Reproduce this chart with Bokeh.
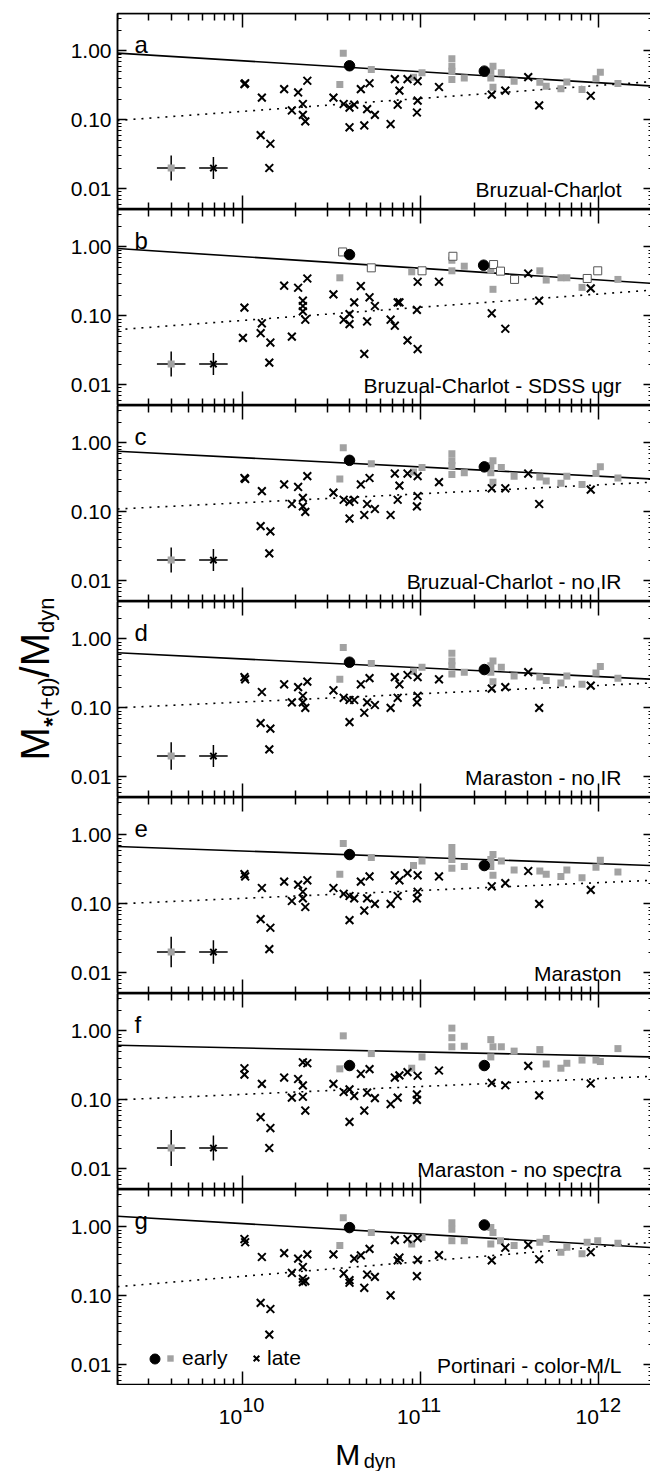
import math
from bokeh.plotting import figure
from bokeh.layouts import column, row
from bokeh.models import (LogAxis, FixedTicker, CustomJSTickFormatter, Range1d,
                          Legend, LegendItem)
from bokeh.embed import file_html
from bokeh.resources import INLINE
from bokeh.core.properties import value

FONT = "Liberation Sans"

# ---------------- axis ticks ----------------
X_MAJOR = [1e10, 1e11, 1e12]
X_MINOR = [k * 10.0 ** e for e in (9, 10, 11) for k in range(2, 10)]
Y_MAJOR = [0.01, 0.1, 1.0]
Y_MINOR = [k * 10.0 ** e for e in (-3, -2, -1, 0) for k in range(2, 10)]
X_EXPONENTS = ["10", "11", "12"]

# ---------------- data (masses in units of 1e10 Msun) ----------------
FIT_M = [0.2, 200.0]          # ends of the fitted lines
ERR_M = [0.40, 0.69]          # typical error crosses
ERR_R = [0.02, 0.02]
ERR_DX = 0.08                 # dex

# panel a : Bruzual-Charlot
a_late_m = [1.03, 1.04, 1.29, 1.27, 1.44, 1.42, 1.72, 1.90, 2.06, 2.19, 2.19, 2.26, 2.32, 3.25, 3.71, 4.00, 4.00, 4.25, 4.63,
            4.84, 5.02, 5.18, 5.55, 6.80, 7.18, 7.45, 7.62, 8.46, 9.55, 9.64, 9.64, 12.7, 25.1, 29.9, 40.2, 46.3, 90.1]
a_late_r = [0.33, 0.34, 0.21, 0.060, 0.045, 0.020, 0.28, 0.137, 0.25, 0.17, 0.118, 0.095, 0.37, 0.21, 0.17, 0.078, 0.151, 0.166, 0.28,
            0.083, 0.143, 0.34, 0.118, 0.087, 0.39, 0.166, 0.266, 0.39, 0.128, 0.364, 0.190, 0.30, 0.232, 0.266, 0.417, 0.162, 0.224]
a_early_m = [3.69, 3.53, 5.30, 9.14, 10.2, 15.0, 15.0, 15.0, 15.0, 17.6, 24.8, 25.5, 24.8, 25.5, 28.4, 33.5, 46.7, 50.7, 61.3,
             66.2, 80.5, 96.4, 102, 128]
a_early_r = [0.925, 0.325, 0.539, 0.417, 0.482, 0.77, 0.60, 0.51, 0.385, 0.407, 0.51, 0.60, 0.407, 0.297, 0.482, 0.364, 0.352,
             0.307, 0.284, 0.356, 0.275, 0.394, 0.493, 0.336]
a_circ_m = [4.0, 22.8]
a_circ_r = [0.61, 0.51]
a_solid = [0.93, 0.31]
a_dotted = [0.098, 0.36]
a_err_dy = [0.18, 0.16]

# panel b : Bruzual-Charlot - SDSS ugr
b_late_m = [1.03, 1.01, 1.29, 1.27, 1.44, 1.42, 1.72, 1.90, 2.06, 2.19, 2.19, 2.19, 2.26, 2.32, 3.25, 3.71, 4.00, 4.00, 4.25, 4.63,
            4.84, 5.02, 5.18, 5.55, 6.80, 7.18, 7.45, 7.62, 8.46, 9.64, 9.55, 9.64, 12.7, 25.1, 29.9, 40.2, 46.3, 90.1]
b_late_r = [0.132, 0.048, 0.078, 0.056, 0.041, 0.021, 0.274, 0.050, 0.256, 0.166, 0.139, 0.116, 0.088, 0.349, 0.205, 0.088, 0.076,
            0.106, 0.157, 0.271, 0.028, 0.083, 0.186, 0.139, 0.088, 0.072, 0.157, 0.157, 0.044, 0.033, 0.122, 0.313, 0.313, 0.109,
            0.065, 0.412, 0.166, 0.251]
b_early_m = [3.53, 8.93, 15.0, 15.0, 17.6, 24.8, 25.5, 46.7, 50.7, 61.3, 66.2, 80.5, 128]
b_early_r = [0.357, 0.436, 0.642, 0.451, 0.526, 0.461, 0.243, 0.451, 0.331, 0.357, 0.357, 0.259, 0.338]
b_open_m = [3.66, 5.30, 10.2, 15.2, 25.7, 28.1, 33.7, 98.6, 86.1]
b_open_r = [0.847, 0.498, 0.451, 0.733, 0.556, 0.446, 0.338, 0.451, 0.349]
b_circ_m = [4.0, 22.6]
b_circ_r = [0.775, 0.544]
b_solid = [0.95, 0.296]
b_dotted = [0.063, 0.237]
b_err_dy = [0.18, 0.16]

# panel c : Bruzual-Charlot - no IR
c_late_m = list(a_late_m)
c_late_r = [0.31, 0.30, 0.20, 0.062, 0.052, 0.025, 0.25, 0.13, 0.23, 0.16, 0.12, 0.10, 0.33, 0.19, 0.15, 0.08, 0.14, 0.15, 0.25,
            0.09, 0.13, 0.31, 0.11, 0.09, 0.36, 0.15, 0.24, 0.36, 0.12, 0.33, 0.17, 0.27, 0.22, 0.22, 0.36, 0.13, 0.21]
c_early_m = list(a_early_m)
c_early_r = [0.85, 0.30, 0.50, 0.38, 0.44, 0.70, 0.55, 0.47, 0.35, 0.37, 0.47, 0.55, 0.37, 0.27, 0.44, 0.33, 0.32, 0.28, 0.26,
             0.33, 0.25, 0.36, 0.45, 0.31]
c_circ_m = [4.0, 22.8]
c_circ_r = [0.56, 0.45]
c_solid = [0.76, 0.30]
c_dotted = [0.11, 0.27]
c_err_dy = [0.18, 0.16]

# panel d : Maraston - no IR
d_late_m = list(a_late_m)
d_late_r = [0.28, 0.26, 0.17, 0.06, 0.05, 0.025, 0.22, 0.12, 0.20, 0.15, 0.12, 0.10, 0.24, 0.18, 0.14, 0.062, 0.13, 0.13, 0.22,
            0.085, 0.12, 0.27, 0.11, 0.10, 0.28, 0.14, 0.22, 0.30, 0.12, 0.28, 0.15, 0.26, 0.19, 0.20, 0.33, 0.10, 0.21]
d_early_m = list(a_early_m)
d_early_r = [0.75, 0.26, 0.44, 0.34, 0.39, 0.62, 0.48, 0.41, 0.31, 0.33, 0.41, 0.48, 0.33, 0.24, 0.39, 0.29, 0.28, 0.25, 0.23,
             0.29, 0.22, 0.32, 0.40, 0.27]
d_circ_m = [4.0, 22.8]
d_circ_r = [0.46, 0.36]
d_solid = [0.63, 0.26]
d_dotted = [0.10, 0.23]
d_err_dy = [0.20, 0.16]

# panel e : Maraston
e_late_m = list(a_late_m)
e_late_r = [0.27, 0.25, 0.17, 0.06, 0.045, 0.022, 0.21, 0.11, 0.19, 0.15, 0.12, 0.09, 0.22, 0.17, 0.14, 0.058, 0.13, 0.12, 0.21,
            0.08, 0.12, 0.25, 0.10, 0.10, 0.26, 0.13, 0.22, 0.28, 0.12, 0.26, 0.15, 0.25, 0.18, 0.20, 0.30, 0.10, 0.16]
e_early_m = list(a_early_m)
e_early_r = [0.75, 0.27, 0.47, 0.36, 0.42, 0.66, 0.52, 0.44, 0.33, 0.35, 0.44, 0.52, 0.35, 0.26, 0.42, 0.31, 0.30, 0.27, 0.25,
             0.31, 0.24, 0.34, 0.43, 0.29]
e_circ_m = [4.0, 22.8]
e_circ_r = [0.52, 0.36]
e_solid = [0.68, 0.36]
e_dotted = [0.10, 0.22]
e_err_dy = [0.22, 0.17]

# panel f : Maraston - no spectra
f_late_m = [1.03, 1.03, 1.29, 1.27, 1.44, 1.42, 1.72, 1.90, 2.06, 2.19, 2.19, 2.26, 2.19, 2.32, 3.25, 3.71, 4.00, 4.00, 4.25,
            4.63, 4.84, 5.02, 5.18, 5.55, 6.80, 7.18, 7.45, 7.62, 8.46, 9.64, 9.55, 9.55, 12.7, 25.1, 29.9, 40.2, 46.3, 90.1]
f_late_r = [0.288, 0.232, 0.171, 0.056, 0.039, 0.020, 0.211, 0.108, 0.201, 0.162, 0.111, 0.070, 0.351, 0.34, 0.171, 0.130, 0.142,
            0.048, 0.114, 0.239, 0.070, 0.127, 0.279, 0.106, 0.087, 0.211, 0.108, 0.227, 0.253, 0.224, 0.120, 0.100, 0.267, 0.176,
            0.163, 0.311, 0.116, 0.173]
f_early_m = [3.69, 3.53, 5.30, 8.93, 10.2, 15.0, 15.0, 15.0, 17.6, 24.8, 25.5, 24.8, 28.4, 33.5, 46.7, 50.7, 61.3, 66.2, 80.5,
             96.4, 102, 128]
f_early_r = [0.85, 0.282, 0.47, 0.288, 0.42, 1.1, 0.8, 0.59, 0.6, 0.42, 0.59, 0.75, 0.59, 0.51, 0.537, 0.332, 0.288, 0.34,
             0.378, 0.378, 0.36, 0.555]
f_circ_m = [4.0, 22.8]
f_circ_r = [0.315, 0.315]
f_solid = [0.62, 0.42]
f_dotted = [0.10, 0.22]
f_err_dy = [0.26, 0.18]

# panel g : Portinari - color-M/L
g_late_m = [1.03, 1.04, 1.29, 1.27, 1.44, 1.42, 1.72, 1.90, 2.06, 2.19, 2.19, 2.26, 2.19, 2.32, 3.25, 3.71, 4.00, 4.00, 4.25,
            4.63, 4.84, 5.02, 5.18, 5.55, 6.80, 7.18, 7.45, 7.62, 8.46, 9.64, 9.55, 9.64, 12.7, 25.1, 29.9, 40.2, 46.3, 90.1]
g_late_r = [0.668, 0.60, 0.367, 0.079, 0.0645, 0.0274, 0.418, 0.215, 0.347, 0.262, 0.177, 0.164, 0.158, 0.40, 0.40, 0.211, 0.169,
            0.155, 0.347, 0.387, 0.131, 0.204, 0.48, 0.189, 0.102, 0.646, 0.327, 0.36, 0.668, 0.69, 0.193, 0.333, 0.39, 0.327,
            0.50, 0.549, 0.34, 0.43]
g_early_m = [3.69, 3.53, 5.30, 8.93, 10.2, 15.0, 15.0, 15.0, 17.6, 24.8, 25.5, 24.8, 28.1, 33.5, 46.7, 50.7, 61.3, 66.2, 80.5,
             86.0, 98.6, 128]
g_early_r = [1.36, 0.537, 0.83, 0.567, 0.705, 1.15, 0.93, 0.63, 0.63, 0.98, 0.83, 0.567, 0.63, 0.537, 0.6, 0.68, 0.43, 0.51,
             0.41, 0.6, 0.63, 0.58]
g_circ_m = [4.0, 22.8]
g_circ_r = [0.98, 1.07]
g_solid = [1.43, 0.50]
g_dotted = [0.136, 0.60]

PANEL_LETTERS = ["a", "b", "c", "d", "e", "f", "g"]
PANEL_NAMES = ["Bruzual-Charlot", "Bruzual-Charlot - SDSS ugr", "Bruzual-Charlot - no IR",
               "Maraston - no IR", "Maraston", "Maraston - no spectra", "Portinari - color-M/L"]

# ---------------- styling / layout ----------------
E10 = 1e10
GRAY = "#a2a2a2"
X_LO, X_HI = 2e9, 2e12
Y_LO, Y_HI = 0.005, 3.5
X_RANGE = Range1d(X_LO, X_HI)
FRAME_W, FRAME_H = 535, 196
TOP_B = 13
LEFT_B = 47
FOOT_H = 86
YL_W = 67
TOTAL_H = TOP_B + 7 * FRAME_H + FOOT_H
BLANK = "return '';"


def sc(vals):
    return [v * E10 for v in vals]


def style_x_axis(ax, loc):
    ax.ticker = FixedTicker(ticks=X_MAJOR, minor_ticks=X_MINOR)
    ax.fixed_location = loc
    ax.formatter = CustomJSTickFormatter(code=BLANK)
    ax.major_tick_in, ax.major_tick_out = 14, 0
    ax.minor_tick_in, ax.minor_tick_out = 7, 0
    ax.major_tick_line_width = 1.5
    ax.minor_tick_line_width = 1.5
    ax.axis_line_width = 1.5
    ax.major_label_standoff = 0


def style_y_axis(ax, labels):
    ax.ticker = FixedTicker(ticks=Y_MAJOR, minor_ticks=Y_MINOR)
    ax.major_tick_in, ax.major_tick_out = 9, 0
    ax.minor_tick_in, ax.minor_tick_out = 4, 0
    ax.major_tick_line_width = 1.3
    ax.minor_tick_line_width = 1.2
    ax.axis_line_width = 1.5
    if labels:
        ax.formatter = CustomJSTickFormatter(code="return tick.toFixed(2);")
        ax.major_label_text_font = FONT
        ax.major_label_text_font_size = "21px"
        ax.major_label_text_color = "black"
        ax.major_label_standoff = 6
    else:
        ax.fixed_location = X_HI
        ax.formatter = CustomJSTickFormatter(code=BLANK)
        ax.major_label_standoff = 0


def make_panel(i, late_m, late_r, early_m, early_r, circ_m, circ_r, solid, dotted,
               err_dy=None, open_m=None, open_r=None):
    p = figure(frame_width=FRAME_W, frame_height=FRAME_H, x_axis_type="log", y_axis_type="log",
               x_range=X_RANGE, y_range=Range1d(Y_LO, Y_HI), output_backend="svg",
               toolbar_location=None, min_border_left=LEFT_B, min_border_right=0,
               min_border_top=TOP_B if i == 0 else 0, min_border_bottom=0)
    p.xgrid.visible = False
    p.ygrid.visible = False
    p.outline_line_color = "black"
    p.outline_line_width = 1.5
    style_x_axis(p.xaxis[0], Y_LO)
    style_y_axis(p.yaxis[0], True)
    top_ax = LogAxis()
    style_x_axis(top_ax, Y_HI)
    p.add_layout(top_ax, "above")
    right_ax = LogAxis()
    style_y_axis(right_ax, False)
    p.add_layout(right_ax, "right")

    p.line(sc(FIT_M), solid, line_color="black", line_width=1.6)
    p.line(sc(FIT_M), dotted, line_color="black", line_width=1.6, line_dash="2 6")

    sq = p.scatter(sc(early_m), early_r, marker="square", size=7, fill_color=GRAY, line_color=None)
    if open_m is not None:
        p.scatter(sc(open_m), open_r, marker="square", size=8, fill_color="white",
                  line_color="#555555", line_width=1)
    xr = p.scatter(sc(late_m), late_r, marker="x", size=11, line_color="black", line_width=2)
    ci = p.scatter(sc(circ_m), circ_r, marker="circle", size=10.5, fill_color="black", line_color="black")

    if err_dy is not None:
        ex = sc(ERR_M)
        p.segment([m * 10 ** -ERR_DX for m in ex], ERR_R, [m * 10 ** ERR_DX for m in ex], ERR_R,
                  line_color="black", line_width=1.5)
        p.segment(ex, [r * 10 ** -d for r, d in zip(ERR_R, err_dy)], ex,
                  [r * 10 ** d for r, d in zip(ERR_R, err_dy)], line_color="black", line_width=1.5)
        p.scatter(ex[:1], ERR_R[:1], marker="square", size=7, fill_color=GRAY, line_color=None)
        p.scatter(ex[1:], ERR_R[1:], marker="x", size=9, line_color="black", line_width=2)

    p.text(x=[2.49e9], y=[1.24], text=[PANEL_LETTERS[i]], text_font=value(FONT),
           text_font_size="24px", text_align="left", text_baseline="alphabetic", text_color="black")
    p.text(x=[1.34e12], y=[0.0097], text=[PANEL_NAMES[i]], text_font=value(FONT),
           text_font_size="21px", text_align="right", text_baseline="alphabetic", text_color="black")
    return p, sq, xr, ci


pa = make_panel(0, a_late_m, a_late_r, a_early_m, a_early_r, a_circ_m, a_circ_r, a_solid, a_dotted, a_err_dy)
pb = make_panel(1, b_late_m, b_late_r, b_early_m, b_early_r, b_circ_m, b_circ_r, b_solid, b_dotted, b_err_dy,
                b_open_m, b_open_r)
pc = make_panel(2, c_late_m, c_late_r, c_early_m, c_early_r, c_circ_m, c_circ_r, c_solid, c_dotted, c_err_dy)
pd = make_panel(3, d_late_m, d_late_r, d_early_m, d_early_r, d_circ_m, d_circ_r, d_solid, d_dotted, d_err_dy)
pe = make_panel(4, e_late_m, e_late_r, e_early_m, e_early_r, e_circ_m, e_circ_r, e_solid, e_dotted, e_err_dy)
pf = make_panel(5, f_late_m, f_late_r, f_early_m, f_early_r, f_circ_m, f_circ_r, f_solid, f_dotted, f_err_dy)
pg = make_panel(6, g_late_m, g_late_r, g_early_m, g_early_r, g_circ_m, g_circ_r, g_solid, g_dotted)
panels = [pa[0], pb[0], pc[0], pd[0], pe[0], pf[0], pg[0]]

# legend in panel g
g_fig, g_sq, g_xr, g_ci = pg
leg_c = Legend(items=[LegendItem(label=" ", renderers=[g_ci])], location=(25, 14),
               glyph_width=25, glyph_height=25, padding=0, margin=0, label_standoff=0,
               label_text_font=FONT, label_text_font_size="21px", label_text_color="black",
               border_line_color=None, background_fill_alpha=0)
leg_e = Legend(items=[LegendItem(label="early", renderers=[g_sq])], location=(45, 15),
               glyph_width=16, glyph_height=16, padding=0, margin=0, label_standoff=4,
               label_text_font=FONT, label_text_font_size="21px", label_text_color="black",
               border_line_color=None, background_fill_alpha=0)
leg_l = Legend(items=[LegendItem(label="late", renderers=[g_xr])], location=(129, 15),
               glyph_width=20, glyph_height=20, padding=0, margin=0, label_standoff=1,
               label_text_font=FONT, label_text_font_size="21px", label_text_color="black",
               border_line_color=None, background_fill_alpha=0)
for lg in (leg_c, leg_e, leg_l):
    g_fig.add_layout(lg, "center")

# footer with x tick labels and x title (y measured in pixels from the page bottom)
foot = figure(frame_width=FRAME_W, frame_height=FOOT_H, x_axis_type="log", x_range=X_RANGE,
              y_range=Range1d(0, FOOT_H), x_axis_location=None, y_axis_location=None,
              min_border_left=LEFT_B, min_border_right=0, min_border_top=0, min_border_bottom=0,
              output_backend="svg", toolbar_location=None, outline_line_color=None)
foot.xgrid.visible = False
foot.ygrid.visible = False
foot.text(x=X_MAJOR, y=[55] * 3, text=["10"] * 3, text_font=value(FONT), text_font_size="21px",
          text_align="right", text_baseline="alphabetic", text_color="black")
foot.text(x=X_MAJOR, y=[67] * 3, text=X_EXPONENTS, text_font=value(FONT), text_font_size="20px",
          text_align="left", text_baseline="alphabetic", text_color="black")
foot.text(x=[3.33e10], y=[17], text=["M"], text_font=value(FONT), text_font_size="30px",
          text_align="left", text_baseline="alphabetic", text_color="black")
foot.text(x=[4.8e10], y=[11], text=["dyn"], text_font=value(FONT), text_font_size="20px",
          text_align="left", text_baseline="alphabetic", text_color="black")

# y title figure (pixel coordinates, y measured from the page bottom)
ylab = figure(width=YL_W, height=TOTAL_H, x_range=Range1d(0, YL_W), y_range=Range1d(0, TOTAL_H),
              x_axis_location=None, y_axis_location=None, min_border=0,
              output_backend="svg", toolbar_location=None, outline_line_color=None)
ylab.xgrid.visible = False
ylab.ygrid.visible = False
# (text, font px, centre x, centre y from top, bold)
pieces = [("M", 40, 34.1, 743.3, False), ("*", 24, 51.5, 721.6, True), ("(+g)", 22, 46.4, 696.7, False),
          ("/M", 40, 34.1, 654.7, False), ("dyn", 22, 46.4, 614.7, False)]
for txt, fs, cx, cy, bold in pieces:
    ylab.text(x=[cx], y=[TOTAL_H - cy], text=[txt], angle=math.pi / 2, text_font=value(FONT),
              text_font_size=f"{fs}px", text_font_style="bold" if bold else "normal",
              text_align="center", text_baseline="middle", text_color="black")

layout = row(ylab, column(*panels, foot))
open("out.html", "w").write(file_html(layout, INLINE))
